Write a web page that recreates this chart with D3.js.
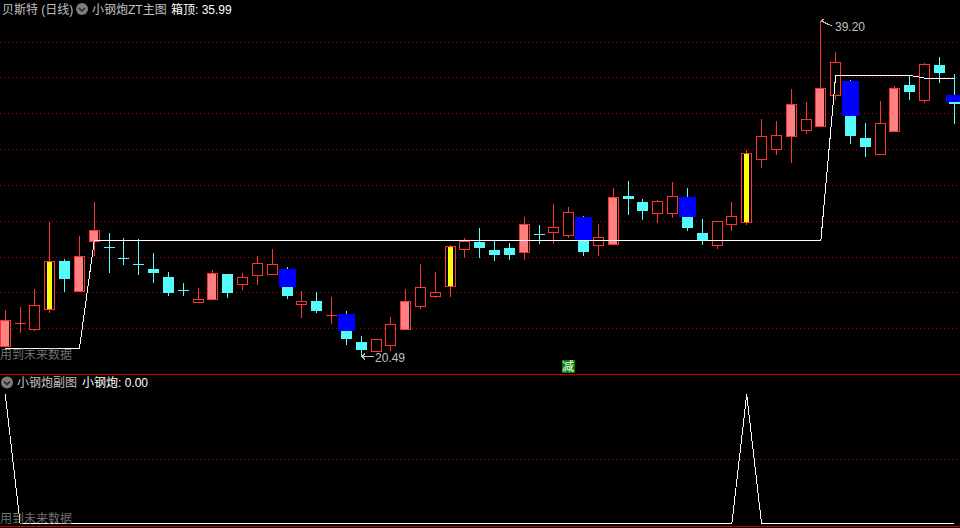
<!DOCTYPE html>
<html>
<head>
<meta charset="utf-8">
<script src="https://d3js.org/d3.v7.min.js"></script>
<style>
  html, body { margin: 0; padding: 0; background: #000; overflow: hidden; }
  svg { display: block; }
  text { font-family: "Liberation Sans", "Noto Sans CJK SC", sans-serif; font-size: 12px; }
</style>
</head>
<body>
<div class="chart"></div>
<script>
// daily candles
var opens = [21.05,22.30,22.00,23.12,25.78,24.10,26.91,26.55,25.94,25.60,25.33,24.89,24.17,23.51,23.66,25.05,24.51,25.01,25.07,25.33,
  23.39,23.55,22.75,22.82,21.26,20.77,21.09,21.98,23.28,23.84,24.40,26.47,26.84,26.39,26.51,26.28,27.31,27.42,27.23,28.24,
  26.67,26.73,29.41,29.07,28.48,28.48,29.35,27.34,26.69,27.86,27.97,31.49,32.05,32.76,33.11,33.32,35.07,35.83,32.65,31.77,
  33.06,35.61,34.79,36.73,35.05];
var closes = [22.47,22.30,23.31,25.78,24.77,26.06,27.51,26.54,25.93,25.59,25.11,23.99,24.16,23.66,25.11,23.99,24.87,25.65,25.61,23.82,
  23.53,22.99,22.75,21.42,20.81,21.41,22.24,23.55,24.31,24.03,26.62,26.88,26.51,26.11,26.11,27.85,27.30,27.66,28.50,26.28,
  27.10,29.35,29.24,28.57,29.11,29.39,27.62,26.94,28.00,28.28,31.79,32.74,32.80,34.55,33.69,35.42,36.88,32.76,32.15,33.47,
  35.42,35.22,36.77,36.28,34.55];
var highs = [23.04,23.21,24.22,27.96,25.89,27.18,29.07,27.34,27.06,27.01,26.23,25.16,24.55,24.27,25.28,25.05,25.11,26.06,26.45,25.44,
  24.10,24.05,23.77,22.99,21.59,21.41,22.65,24.22,25.61,25.16,26.67,27.06,27.62,26.90,26.78,28.24,27.79,28.96,28.80,28.29,
  27.85,29.86,30.25,29.24,29.19,30.19,29.86,28.13,28.00,29.07,31.98,33.71,33.60,35.39,34.66,39.20,37.45,35.89,33.49,34.72,
  35.55,36.17,36.84,37.17,36.22];
var lows = [21.05,21.83,21.94,22.95,24.10,24.10,26.11,25.16,25.61,25.05,24.61,23.88,23.88,23.51,23.66,23.77,24.22,24.49,25.07,23.73,
  22.65,22.93,22.32,21.14,20.49,20.77,20.81,21.98,23.15,23.77,23.82,26.00,26.00,25.84,25.89,25.89,26.78,26.78,27.12,26.11,
  26.11,26.73,28.40,28.13,27.96,28.24,27.51,26.73,26.51,27.51,27.85,31.03,31.76,31.31,32.93,33.32,34.83,32.37,31.64,31.77,
  33.06,34.83,34.66,35.78,33.49];

// the box top line of the main panel
var boxTop = [20.90,20.90,20.90,20.90,20.90,20.90,26.92,26.92,26.92,26.92,26.92,26.92,26.92,26.92,26.92,26.92,26.92,26.92,26.92,26.92,
  26.92,26.92,26.92,26.92,26.92,26.92,26.92,26.92,26.92,26.92,26.92,26.92,26.92,26.92,26.92,26.92,26.92,26.92,26.92,26.92,
  26.92,26.92,26.92,26.92,26.92,26.92,26.92,26.92,26.92,26.92,26.92,26.92,26.92,26.92,26.92,26.92,36.15,36.15,36.15,36.15,
  36.15,36.15,35.99,35.99,35.99];

// which days get the filled styles
var pinkDays = [0,5,6,14,27,35,41,53,55,60];
var yellowDays = [3,30,50];
var blueDays = [19,23,39,46,57,64];
var blueTops = [25.33,22.82,28.24,29.35,35.83,35.05];
var blueBottoms = [24.33,21.87,26.95,28.24,33.88,34.66];

var gridPrices = [38,36,34,32,30,28,26,24,22];

// lower panel
var subValues = [1,0,0,0,0,0,0,0,0,0,0,0,0,0,0,0,0,0,0,0,
  0,0,0,0,0,0,0,0,0,0,0,0,0,0,0,0,0,0,0,0,
  0,0,0,0,0,0,0,0,0,0,1,0,0,0,0,0,0,0,0,0,
  0,0,0,0,0];
var subGrid = [0.5];

var width = 960,
    height = 528;

var red = "#ff3232",
    cyan = "#54fcfc",
    pink = "#ff8080",
    gridRed = "#a80000",
    lineRed = "#c80000";

var days = d3.range(opens.length);

var x = d3.scalePoint().domain(days).range([5.3, 954.3]);
var y = d3.scaleLinear().domain([20.49, 39.20]).range([355.7, 20.7]);
var ySub = d3.scaleLinear().domain([0, 1]).range([523.5, 394.5]);

// pixel helpers, the original is drawn on whole pixels
var col = function(i) { return Math.floor(x(i)); };
var row = function(v) { return Math.round(y(v)); };

var svg = d3.select(".chart").append("svg")
    .attr("width", width)
    .attr("height", height)
    .attr("shape-rendering", "crispEdges");

svg.append("rect").attr("width", width).attr("height", height).attr("fill", "#000");

// dotted grid
var drawGrid = function(scale, values) {
  var g = svg.append("g")
      .call(d3.axisRight(scale).tickValues(values).tickSize(width).tickFormat(""));
  g.select(".domain").remove();
  g.selectAll(".tick")
      .attr("transform", function(d) { return "translate(0," + (Math.floor(scale(d)) + 0.5) + ")"; });
  g.selectAll("line")
      .attr("stroke", gridRed)
      .attr("stroke-dasharray", "1,3");
};
drawGrid(y, gridPrices);
drawGrid(ySub, subGrid);

// wicks
svg.append("g").selectAll("line")
    .data(days)
  .enter().append("line")
    .attr("x1", function(i) { return col(i) + 0.5; })
    .attr("x2", function(i) { return col(i) + 0.5; })
    .attr("y1", function(i) { return row(highs[i]); })
    .attr("y2", function(i) { return row(lows[i]) + 1; })
    .attr("stroke", function(i) { return closes[i] >= opens[i] ? red : cyan; });

// bodies
var isUp = function(i) { return closes[i] >= opens[i]; };
var isDoji = function(i) { return Math.abs(closes[i] - opens[i]) < 0.05; };

var upBodies = days.filter(function(i) { return isUp(i) && !isDoji(i); });
var flatBodies = days.filter(function(i) { return !isUp(i) || isDoji(i); });

svg.append("g").selectAll("rect")
    .data(upBodies)
  .enter().append("rect")
    .attr("x", function(i) { return col(i) - 4.5; })
    .attr("y", function(i) { return row(closes[i]) + 0.5; })
    .attr("width", 10)
    .attr("height", function(i) { return row(opens[i]) - row(closes[i]); })
    .attr("fill", "#000")
    .attr("stroke", red);

svg.append("g").selectAll("rect")
    .data(flatBodies)
  .enter().append("rect")
    .attr("x", function(i) { return col(i) - 5; })
    .attr("y", function(i) { return row(Math.max(opens[i], closes[i])); })
    .attr("width", 11)
    .attr("height", function(i) { return Math.max(1, row(Math.min(opens[i], closes[i])) - row(Math.max(opens[i], closes[i]))); })
    .attr("fill", function(i) { return isUp(i) ? red : cyan; });

// filled insides of the red bodies
svg.append("g").selectAll("rect")
    .data(pinkDays)
  .enter().append("rect")
    .attr("x", function(i) { return col(i) - 4; })
    .attr("y", function(i) { return row(closes[i]) + 1; })
    .attr("width", 8)
    .attr("height", function(i) { return row(opens[i]) - row(closes[i]) - 1; })
    .attr("fill", pink);

svg.append("g").selectAll("rect")
    .data(yellowDays)
  .enter().append("rect")
    .attr("x", function(i) { return col(i) - 2; })
    .attr("y", function(i) { return row(closes[i]) + 1; })
    .attr("width", 5)
    .attr("height", function(i) { return row(opens[i]) - row(closes[i]) - 1; })
    .attr("fill", "#ffff00");

// blue bars
svg.append("g").selectAll("rect")
    .data(blueDays)
  .enter().append("rect")
    .attr("x", function(d) { return col(d) - 8; })
    .attr("y", function(d, i) { return row(blueTops[i]); })
    .attr("width", 17)
    .attr("height", function(d, i) { return row(blueBottoms[i]) - row(blueTops[i]); })
    .attr("fill", "#0000ff");

// white lines
var boxLine = d3.line()
    .x(function(i) { return x(i); })
    .y(function(i) { return y(boxTop[i]); });

svg.append("path")
    .attr("d", boxLine(days))
    .attr("fill", "none")
    .attr("stroke", "#fff")
    .attr("stroke-width", 1);

var subLine = d3.line()
    .x(function(i) { return x(i); })
    .y(function(i) { return ySub(subValues[i]); });

svg.append("path")
    .attr("d", subLine(days))
    .attr("fill", "none")
    .attr("stroke", "#fff")
    .attr("stroke-width", 1);

// panel separators
svg.append("rect").attr("x", 0).attr("y", 374).attr("width", width).attr("height", 1).attr("fill", lineRed);
svg.append("rect").attr("x", 0).attr("y", 526).attr("width", width).attr("height", 1).attr("fill", lineRed);

// high and low notes
var noteGrey = "#c0c0c0";
var addText = function(px, py, label, color) {
  return svg.append("text")
      .attr("x", px)
      .attr("y", py)
      .attr("fill", color)
      .text(label);
};

var hiDay = 55, loDay = 24;
svg.append("path")
    .attr("d", "M" + (col(hiDay) + 1) + "," + row(39.20) + "L" + (col(hiDay) + 12) + "," + (row(39.20) + 5)
      + "M" + (col(hiDay) + 1) + "," + row(39.20) + "L" + (col(hiDay) + 4) + "," + (row(39.20) - 2)
      + "M" + (col(hiDay) + 1) + "," + row(39.20) + "L" + (col(hiDay) + 4) + "," + (row(39.20) + 1))
    .attr("fill", "none")
    .attr("stroke", noteGrey);
addText(col(hiDay) + 15, row(39.20) + 9.5, "39.20", noteGrey);

svg.append("path")
    .attr("d", "M" + (col(loDay) + 1) + "," + (row(20.49) + 0.5) + "L" + (col(loDay) + 13) + "," + (row(20.49) + 0.5)
      + "M" + (col(loDay) + 1) + "," + (row(20.49) + 0.5) + "L" + (col(loDay) + 4) + "," + (row(20.49) - 2.5)
      + "M" + (col(loDay) + 1) + "," + (row(20.49) + 0.5) + "L" + (col(loDay) + 4) + "," + (row(20.49) + 3.5))
    .attr("fill", "none")
    .attr("stroke", noteGrey);
addText(col(loDay) + 14, row(20.49) + 5.5, "20.49", noteGrey);

// 减 marker
var markDay = 38;
svg.append("rect")
    .attr("x", col(markDay) - 6)
    .attr("y", 360)
    .attr("width", 13)
    .attr("height", 13)
    .attr("fill", "#008000");
svg.append("text")
    .attr("x", col(markDay) - 6)
    .attr("y", 371)
    .attr("fill", "#fff")
    .text("减");

// header icons
var addIcon = function(cx, cy) {
  svg.append("circle")
      .attr("cx", cx)
      .attr("cy", cy)
      .attr("r", 6)
      .attr("fill", "#7c7c7c")
      .attr("shape-rendering", "auto");
  svg.append("path")
      .attr("d", "M" + (cx - 3) + "," + (cy - 1) + "L" + cx + "," + (cy + 2) + "L" + (cx + 3) + "," + (cy - 1))
      .attr("fill", "none")
      .attr("stroke", "#222")
      .attr("stroke-width", 1.4)
      .attr("shape-rendering", "auto");
};

addText(2, 14, "贝斯特 (日线)", noteGrey);
addIcon(82, 9);
addText(92, 14, "小钢炮ZT主图", noteGrey);
addText(171, 14, "箱顶: 35.99", "#fff");

addIcon(7, 382.5);
addText(17, 387, "小钢炮副图", noteGrey);
addText(82, 387, "小钢炮: 0.00", "#fff");

addText(0, 359, "用到未来数据", "#707070");
addText(0, 523, "用到未来数据", "#707070");
</script>
</body>
</html>
